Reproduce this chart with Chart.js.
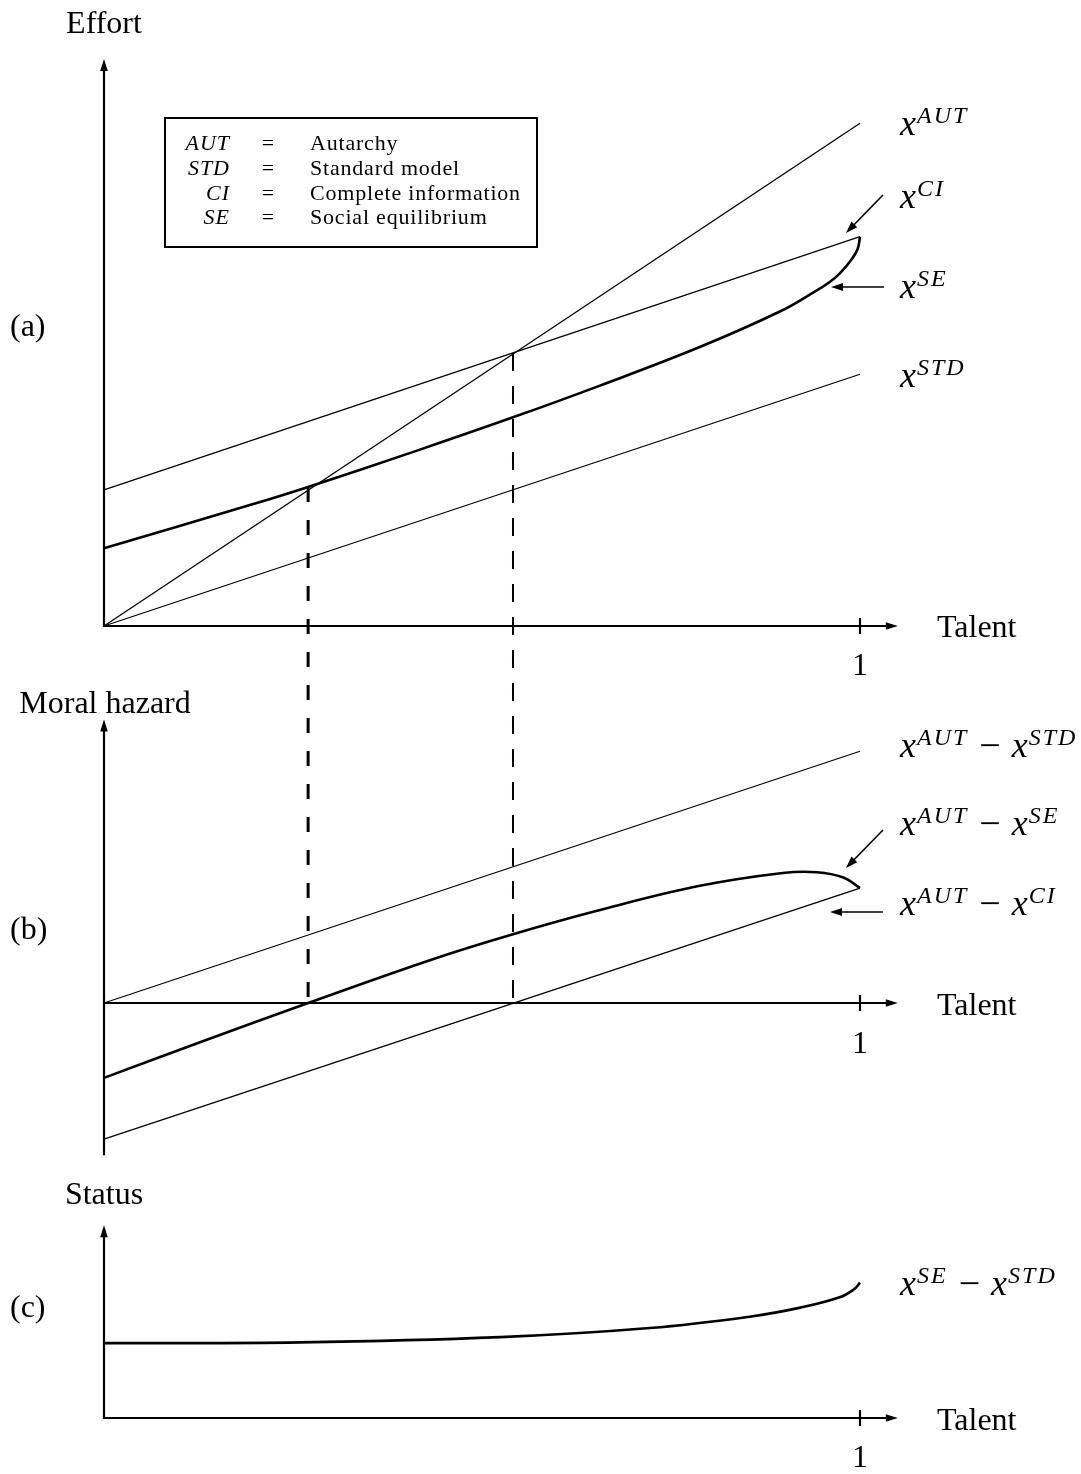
<!DOCTYPE html>
<html lang="en">
<head>
  <meta charset="UTF-8" />
  <title>Effort, moral hazard and status by talent</title>
  <style>
    body {
      margin: 0;
      padding: 0;
      background: #fff;
    }
    .page {
      position: relative;
      width: 1081px;
      height: 1474px;
    }
    canvas {
      position: absolute;
      left: 0;
    }
  </style>
  <script src="https://cdn.jsdelivr.net/npm/chart.js"></script>
</head>
<body>
  <div class="page">
    <canvas id="panelA"></canvas>
    <canvas id="panelB"></canvas>
    <canvas id="panelC"></canvas>
  </div>

  <script>
    // ---- data (talent on x, 0..1) ----
    const talent = [0, 1];

    // panel (a): effort
    const autEffort = [0, 0.665];
    const stdEffort = [0, 0.333];
    const ciEffort = [0.180, 0.515];
    const seTalent = [0, 0.193, 0.270, 0.414, 0.541, 0.656, 0.788, 0.894, 0.938, 0.960, 0.974, 0.989, 0.997, 1.0];
    const seEffort = [0.103, 0.160, 0.184, 0.232, 0.276, 0.318, 0.369, 0.416, 0.441, 0.455, 0.467, 0.485, 0.499, 0.515];

    // panel (b): moral hazard
    const mhStd = [0, 0.333];
    const mhCi = [-0.180, 0.152];
    const mhSeTalent = [0, 0.127, 0.270, 0.435, 0.541, 0.656, 0.788, 0.898, 0.943, 0.978, 1.0];
    const mhSe = [-0.099, -0.052, 0, 0.058, 0.091, 0.123, 0.155, 0.172, 0.173, 0.166, 0.152];

    // panel (c): status
    const statusTalent = [0, 0.259, 0.524, 0.722, 0.854, 0.921, 0.974, 0.993, 1.0];
    const status = [0.099, 0.100, 0.107, 0.119, 0.134, 0.146, 0.160, 0.171, 0.179];

    // dashed guides: where x^SE and x^CI meet x^AUT
    const cutTalent = [0.270, 0.541];
    const cutEffort = [0.184, 0.361];

    const tickValues = [1];
    const tickLabels = ['1'];

    const legendKeys = ['AUT', 'STD', 'CI', 'SE'];
    const legendNames = ['Autarchy', 'Standard model', 'Complete information', 'Social equilibrium'];

    // ---- layout ----
    const PAGE_W = 1081;
    const UNIT = 756;      // pixels per data unit, both axes
    const X0 = 104;        // page x of the origin
    const SERIF = '"Liberation Serif", "Times New Roman", serif';

    const panels = [
      { id: 'panelA', top: 0,    height: 690, originY: 626,  yMin: 0,    yMax: 0.75 },
      { id: 'panelB', top: 690,  height: 470, originY: 1003, yMin: -0.2, yMax: 0.375 },
      { id: 'panelC', top: 1160, height: 314, originY: 1418, yMin: 0,    yMax: 0.255 }
    ];

    const charts = {};
    let guideTops = [];   // page y where the dashed guides start, set by panel (a)

    function pts(xs, ys) {
      return xs.map((v, i) => ({ x: v, y: ys[i] }));
    }

    function thin(xs, ys) {
      return { data: pts(xs, ys), borderColor: '#000', borderWidth: 1.3, pointRadius: 0, tension: 0, clip: false };
    }

    function thick(xs, ys) {
      return { data: pts(xs, ys), borderColor: '#000', borderWidth: 2.6, pointRadius: 0,
               tension: 0.4, clip: false };
    }

    function arrowHead(ctx, x1, y1, x2, y2, len, half) {
      const a = Math.atan2(y2 - y1, x2 - x1);
      ctx.beginPath();
      ctx.moveTo(x2, y2);
      ctx.lineTo(x2 - len * Math.cos(a) + half * Math.sin(a), y2 - len * Math.sin(a) - half * Math.cos(a));
      ctx.lineTo(x2 - len * Math.cos(a) - half * Math.sin(a), y2 - len * Math.sin(a) + half * Math.cos(a));
      ctx.closePath();
      ctx.fill();
    }

    function arrow(ctx, x1, y1, x2, y2) {
      const a = Math.atan2(y2 - y1, x2 - x1);
      ctx.beginPath();
      ctx.moveTo(x1, y1);
      ctx.lineTo(x2 - 8 * Math.cos(a), y2 - 8 * Math.sin(a));
      ctx.stroke();
      arrowHead(ctx, x1, y1, x2, y2, 12, 4);
    }

    function text(ctx, s, x, y, size, align, italic, spacing) {
      ctx.font = (italic ? 'italic ' : '') + size + 'px ' + SERIF;
      ctx.letterSpacing = (spacing || 0) + 'px';
      ctx.textAlign = align || 'left';
      ctx.textBaseline = 'alphabetic';
      ctx.fillText(s, x, y);
      return ctx.measureText(s).width;
    }

    // math label such as x^{AUT} - x^{STD}
    function mathLabel(ctx, x, y, supers) {
      let cx = x;
      supers.forEach((sup, i) => {
        if (i > 0) {
          cx += 11;
          cx += text(ctx, '\u2212', cx, y + 1, 38, 'left', false, 0);
          cx += 11;
        }
        cx += text(ctx, 'x', cx, y, 36, 'left', true, 0) + 1;
        cx += text(ctx, sup, cx, y - 12, 24, 'left', true, 2);
      });
    }

    function drawAxes(chart) {
      const { ctx, scales: { x, y } } = chart;
      const ox = x.getPixelForValue(0);
      const oy = y.getPixelForValue(0);
      const yTop = y.getPixelForValue(y.max);
      const yBot = y.getPixelForValue(y.min);
      const xEnd = x.getPixelForValue(1.05);
      ctx.save();
      ctx.strokeStyle = '#000';
      ctx.fillStyle = '#000';
      ctx.lineWidth = 2.2;
      ctx.beginPath();
      ctx.moveTo(ox, yBot + 1);
      ctx.lineTo(ox, yTop + 8);
      ctx.moveTo(ox - 1, oy);
      ctx.lineTo(xEnd - 8, oy);
      tickValues.forEach(v => {
        const tx = x.getPixelForValue(v);
        ctx.moveTo(tx, oy - 8);
        ctx.lineTo(tx, oy + 8);
      });
      ctx.stroke();
      arrowHead(ctx, ox, yBot, ox, yTop, 12, 3.8);
      arrowHead(ctx, ox, oy, xEnd, oy, 12, 3.8);
      ctx.restore();
    }

    function drawTexts(chart, p, items) {
      const ctx = chart.ctx;
      ctx.save();
      ctx.fillStyle = '#000';
      items.forEach(it => {
        if (it.math) {
          mathLabel(ctx, it.x, it.y - p.top, it.math);
        } else {
          text(ctx, it.s, it.x, it.y - p.top, it.size || 32, it.align, it.italic, it.spacing);
        }
      });
      ctx.restore();
    }

    function drawArrows(chart, p, list) {
      const ctx = chart.ctx;
      ctx.save();
      ctx.strokeStyle = '#000';
      ctx.fillStyle = '#000';
      ctx.lineWidth = 1.6;
      list.forEach(a => arrow(ctx, a[0], a[1] - p.top, a[2], a[3] - p.top));
      ctx.restore();
    }

    // dashed guides, drawn in page space so the dash pattern runs on across panels
    function drawGuides(chart, p, yEnd) {
      const ctx = chart.ctx;
      if (p === panels[0]) {
        guideTops = cutEffort.map(v => p.top + chart.scales.y.getPixelForValue(v));
      }
      ctx.save();
      ctx.strokeStyle = '#000';
      cutTalent.forEach((t, i) => {
        const gx = chart.scales.x.getPixelForValue(t);
        ctx.lineWidth = i === 0 ? 3 : 2;
        ctx.setLineDash(i === 0 ? [15, 18] : [18, 15]);
        ctx.beginPath();
        ctx.moveTo(gx, guideTops[i] - p.top);
        ctx.lineTo(gx, yEnd);
        ctx.stroke();
      });
      ctx.restore();
    }

    function drawLegendBox(chart, p) {
      const ctx = chart.ctx;
      ctx.save();
      ctx.strokeStyle = '#000';
      ctx.lineWidth = 2;
      ctx.strokeRect(165, 118 - p.top, 372, 129);
      ctx.fillStyle = '#000';
      const rows = [150, 175, 200, 224];
      legendKeys.forEach((k, i) => {
        text(ctx, k, 230, rows[i] - p.top, 22, 'right', true, 1);
        text(ctx, '=', 268, rows[i] - p.top, 22, 'center', false, 0);
        text(ctx, legendNames[i], 310, rows[i] - p.top, 22, 'left', false, 0.8);
      });
      ctx.restore();
    }

    function makePanel(p, datasets, decorate) {
      const canvas = document.getElementById(p.id);
      canvas.width = PAGE_W;
      canvas.height = p.height;
      canvas.style.width = PAGE_W + 'px';
      canvas.style.height = p.height + 'px';
      canvas.style.top = p.top + 'px';
      const oy = p.originY - p.top;
      return new Chart(canvas.getContext('2d'), {
        type: 'line',
        data: { datasets: datasets },
        options: {
          responsive: false,
          animation: false,
          events: [],
          layout: {
            padding: {
              left: X0,
              right: PAGE_W - X0 - UNIT,
              top: oy - p.yMax * UNIT,
              bottom: p.height - (oy - p.yMin * UNIT)
            }
          },
          scales: {
            x: { type: 'linear', min: 0, max: 1, display: false },
            y: { type: 'linear', min: p.yMin, max: p.yMax, display: false }
          },
          plugins: {
            legend: { display: false },
            tooltip: { enabled: false }
          }
        },
        plugins: [{
          id: 'decor',
          beforeDatasetsDraw(chart) { drawAxes(chart); },
          afterDatasetsDraw(chart) { decorate(chart); }
        }]
      });
    }

    // ---- panel (a) ----
    charts.a = makePanel(panels[0], [
      thin(talent, autEffort),
      thin(talent, stdEffort),
      thin(talent, ciEffort),
      thick(seTalent, seEffort)
    ], chart => {
      const p = panels[0];
      drawGuides(chart, p, p.height + 5);
      drawLegendBox(chart, p);
      drawArrows(chart, p, [[883, 195, 846, 233], [884, 287, 831, 287]]);
      drawTexts(chart, p, [
        { s: 'Effort', x: 104, y: 33, align: 'center' },
        { s: '(a)', x: 10, y: 336 },
        { s: 'Talent', x: 937, y: 637 },
        { s: tickLabels[0], x: 860, y: 675, align: 'center' },
        { math: ['AUT'], x: 900, y: 135 },
        { math: ['CI'], x: 900, y: 208 },
        { math: ['SE'], x: 900, y: 298 },
        { math: ['STD'], x: 900, y: 387 }
      ]);
    });

    // ---- panel (b) ----
    charts.b = makePanel(panels[1], [
      thin(talent, mhStd),
      thin(talent, mhCi),
      thick(mhSeTalent, mhSe)
    ], chart => {
      const p = panels[1];
      drawGuides(chart, p, chart.scales.y.getPixelForValue(0));
      drawArrows(chart, p, [[883, 830, 846, 868], [883, 912, 830, 912]]);
      drawTexts(chart, p, [
        { s: 'Moral hazard', x: 105, y: 713, align: 'center' },
        { s: '(b)', x: 10, y: 939 },
        { s: 'Talent', x: 937, y: 1015 },
        { s: tickLabels[0], x: 860, y: 1053, align: 'center' },
        { math: ['AUT', 'STD'], x: 900, y: 757 },
        { math: ['AUT', 'SE'], x: 900, y: 835 },
        { math: ['AUT', 'CI'], x: 900, y: 915 }
      ]);
    });

    // ---- panel (c) ----
    charts.c = makePanel(panels[2], [
      thick(statusTalent, status)
    ], chart => {
      const p = panels[2];
      drawTexts(chart, p, [
        { s: 'Status', x: 104, y: 1204, align: 'center' },
        { s: '(c)', x: 10, y: 1317 },
        { s: 'Talent', x: 937, y: 1430 },
        { s: tickLabels[0], x: 860, y: 1467, align: 'center' },
        { math: ['SE', 'STD'], x: 900, y: 1295 }
      ]);
    });
  </script>
</body>
</html>
